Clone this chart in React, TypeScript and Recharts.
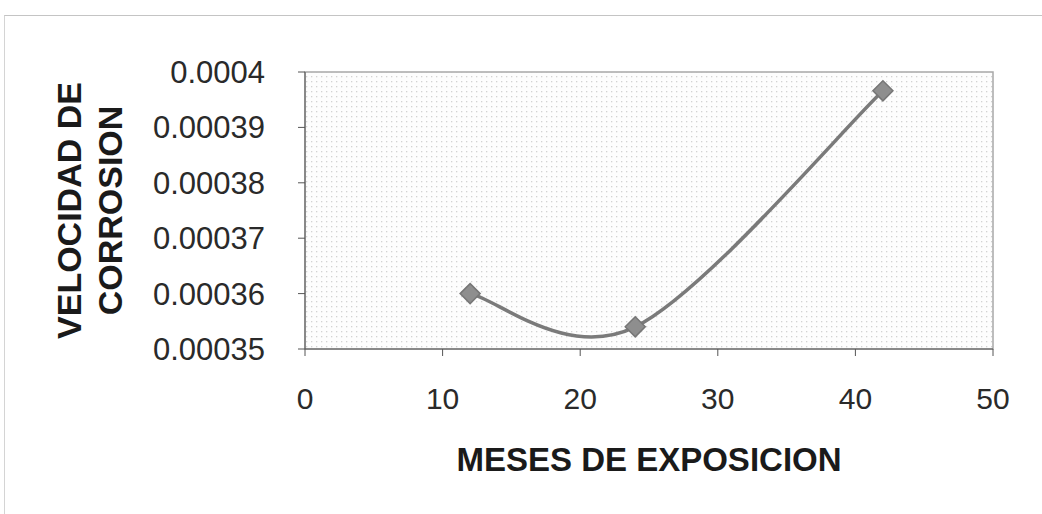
import { LineChart, Line, XAxis, YAxis, ReferenceArea } from 'recharts';

const meses = [12, 24, 42];
const velocidad = [0.00036, 0.000354, 0.0003966];
const xTicks = [0, 10, 20, 30, 40, 50];
const yTicks = [0.00035, 0.00036, 0.00037, 0.00038, 0.00039, 0.0004];
const yTitle = ['VELOCIDAD DE', 'CORROSION'];
const xTitle = 'MESES DE EXPOSICION';

const data = meses.map((m, i) => ({ meses: m, velocidad: velocidad[i] }));

const FONT = '"Liberation Sans", Arial, sans-serif';

// spreadsheet-style smoothed line (Catmull-Rom through the points)
const smoothCurve = (context: any) => {
  let pts: number[][] = [];
  return {
    areaStart() {},
    areaEnd() {},
    lineStart() {
      pts = [];
    },
    point(x: number, y: number) {
      pts.push([+x, +y]);
    },
    lineEnd() {
      if (!pts.length) return;
      context.moveTo(pts[0][0], pts[0][1]);
      for (let i = 0; i < pts.length - 1; i++) {
        const p0 = pts[Math.max(i - 1, 0)];
        const p1 = pts[i];
        const p2 = pts[i + 1];
        const p3 = pts[Math.min(i + 2, pts.length - 1)];
        context.bezierCurveTo(
          p1[0] + (p2[0] - p0[0]) / 6,
          p1[1] + (p2[1] - p0[1]) / 6,
          p2[0] - (p3[0] - p1[0]) / 6,
          p2[1] - (p3[1] - p1[1]) / 6,
          p2[0],
          p2[1]
        );
      }
    },
  };
};

const Diamond = (props: any) => {
  const { cx, cy } = props;
  if (cx == null || cy == null) return null;
  const r = 10;
  return (
    <path
      d={`M${cx},${cy - r} L${cx + r},${cy} L${cx},${cy + r} L${cx - r},${cy} Z`}
      fill="#8e8e8e"
      stroke="#767676"
      strokeWidth={1.5}
    />
  );
};

const YTitle = (props: any) => {
  const { viewBox } = props;
  const cy = viewBox.y + viewBox.height / 2;
  const xs = [viewBox.x + 69, viewBox.x + 110];
  return (
    <g>
      {yTitle.map((t, i) => (
        <text
          key={t}
          x={xs[i]}
          y={cy}
          transform={`rotate(-90 ${xs[i]} ${cy})`}
          textAnchor="middle"
          dominantBaseline="central"
          fontFamily={FONT}
          fontWeight="bold"
          fontSize={34}
          fill="#1a1a1a"
        >
          {t}
        </text>
      ))}
    </g>
  );
};

const XTitle = (props: any) => {
  const { viewBox } = props;
  return (
    <text
      x={viewBox.x + viewBox.width / 2}
      y={viewBox.y + 110}
      textAnchor="middle"
      dominantBaseline="central"
      fontFamily={FONT}
      fontWeight="bold"
      fontSize={33}
      fill="#1a1a1a"
    >
      {xTitle}
    </text>
  );
};

export default function App() {
  return (
    <div style={{ position: 'absolute', left: 0, top: 0, width: 1042, height: 514, background: '#fff', overflow: 'hidden' }}>
      <svg width={0} height={0} style={{ position: 'absolute' }}>
        <defs>
          <pattern id="dots" width="5" height="5" patternUnits="userSpaceOnUse">
            <rect width="5" height="5" fill="#fdfdfd" />
            <rect x="1" y="1" width="1.3" height="1.3" fill="#d2d2d2" />
          </pattern>
        </defs>
      </svg>
      <div style={{ position: 'absolute', left: 4, top: 15, width: 1100, height: 600, borderTop: '1.5px solid #c4c4c4', borderLeft: '1px solid #d4d4d4' }} />
      <LineChart
        width={1042}
        height={514}
        data={data}
        margin={{ top: 72, right: 49, bottom: 0, left: 0 }}
        style={{ position: 'absolute', left: 0, top: 0 }}
      >
        <ReferenceArea
          x1={0}
          x2={50}
          y1={0.00035}
          y2={0.0004}
          fill="url(#dots)"
          fillOpacity={1}
          stroke="#a8a8a8"
          strokeWidth={1.5}
          ifOverflow="visible"
        />
        <XAxis
          dataKey="meses"
          type="number"
          domain={[0, 50]}
          ticks={xTicks}
          height={165}
          stroke="#555"
          tickSize={7}
          tickMargin={32}
          tick={{ fontSize: 30, fill: '#2a2a2a', fontFamily: FONT }}
          label={<XTitle />}
        />
        <YAxis
          type="number"
          domain={[0.00035, 0.0004]}
          ticks={yTicks}
          width={305}
          stroke="#555"
          tickSize={7}
          tickMargin={33}
          tickFormatter={(v: number) => String(parseFloat(v.toPrecision(6)))}
          tick={{ fontSize: 31, fill: '#2a2a2a', fontFamily: FONT }}
          allowDataOverflow
          label={<YTitle />}
        />
        <Line
          type={smoothCurve as any}
          dataKey="velocidad"
          stroke="#7a7a7a"
          strokeWidth={3.5}
          dot={<Diamond />}
          activeDot={false}
          isAnimationActive={false}
        />
      </LineChart>
    </div>
  );
}
